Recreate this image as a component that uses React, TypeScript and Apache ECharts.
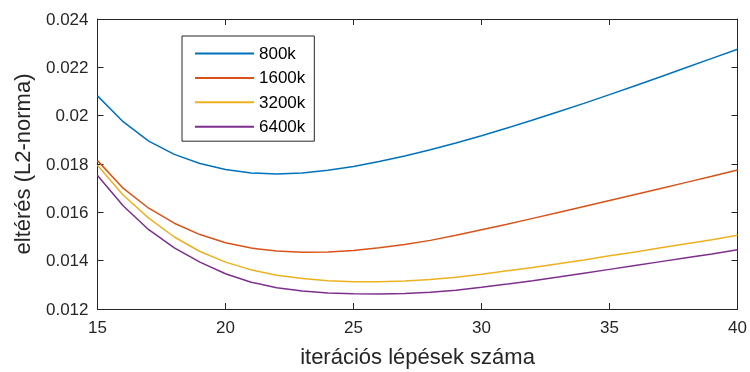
import React, { useEffect, useRef } from "react";
import * as echarts from "echarts";

const iterations = [15, 16, 17, 18, 19, 20, 21, 22, 23, 24, 25, 26, 27, 28, 29, 30, 31, 32, 33, 34, 35, 36, 37, 38, 39, 40];

const s800k = [0.02082, 0.01975, 0.01895, 0.0184, 0.01802, 0.01777, 0.01763, 0.01759, 0.01763, 0.01774, 0.0179, 0.0181, 0.01833, 0.01859, 0.01887, 0.01917, 0.01949, 0.01982, 0.02016, 0.02051, 0.02087, 0.02124, 0.02161, 0.02199, 0.02237, 0.02275];
const s1600k = [0.01814, 0.017, 0.01617, 0.01555, 0.01508, 0.01474, 0.01452, 0.0144, 0.01435, 0.01436, 0.01442, 0.01453, 0.01467, 0.01484, 0.01505, 0.01528, 0.01551, 0.01575, 0.01599, 0.01624, 0.01649, 0.01674, 0.01699, 0.01724, 0.01749, 0.01775];
const s3200k = [0.01795, 0.01672, 0.01576, 0.01498, 0.01438, 0.01394, 0.01362, 0.0134, 0.01326, 0.01317, 0.01313, 0.01313, 0.01316, 0.01322, 0.01331, 0.01344, 0.01358, 0.01372, 0.01387, 0.01403, 0.0142, 0.01436, 0.01453, 0.0147, 0.01487, 0.01505];
const s6400k = [0.01752, 0.01627, 0.01528, 0.01453, 0.01394, 0.01346, 0.01311, 0.01288, 0.01274, 0.01266, 0.01263, 0.01262, 0.01264, 0.01269, 0.01278, 0.0129, 0.01303, 0.01317, 0.01332, 0.01348, 0.01364, 0.0138, 0.01396, 0.01412, 0.01428, 0.01445];

const seriesNames = ["800k", "1600k", "3200k", "6400k"];
const seriesValues = [s800k, s1600k, s3200k, s6400k];
const seriesColors = ["#0072BD", "#D95319", "#EDB120", "#7E2F8E"];

const xTitle = "iterációs lépések száma";
const yTitle = "eltérés (L2-norma)";

const FONT = "'Liberation Sans', Arial, sans-serif";
const AXIS_COLOR = "#262626";

export default function App() {
  const ref = useRef<HTMLDivElement>(null);

  useEffect(() => {
    if (!ref.current) return;
    const chart = echarts.init(ref.current, undefined, { renderer: "svg" });

    const axisLine = { show: true, lineStyle: { color: AXIS_COLOR, width: 1 } };
    const axisTick = { show: true, inside: true, length: 6, lineStyle: { color: AXIS_COLOR, width: 1 } };

    chart.setOption({
      animation: false,
      textStyle: { fontFamily: FONT },
      grid: { left: 97.5, right: 12, top: 19, bottom: 62, containLabel: false },
      legend: {
        show: true,
        orient: "vertical",
        left: 182,
        top: 36,
        data: seriesNames,
        borderColor: AXIS_COLOR,
        borderWidth: 1,
        backgroundColor: "#ffffff",
        padding: [9, 9, 6, 12],
        itemWidth: 59,
        itemHeight: 14,
        itemGap: 7.4,
        itemStyle: { opacity: 0 },
        textStyle: { fontSize: 17, color: "#000000", fontFamily: FONT, lineHeight: 17 },
      },
      xAxis: [
        {
          type: "value",
          min: 15,
          max: 40,
          interval: 5,
          position: "bottom",
          name: xTitle,
          nameLocation: "middle",
          nameGap: 36,
          nameTextStyle: { fontSize: 22, color: AXIS_COLOR, fontFamily: FONT },
          axisLine,
          axisTick,
          splitLine: { show: false },
          axisLabel: { fontSize: 17, color: AXIS_COLOR, margin: 10, fontFamily: FONT },
        },
        {
          type: "value",
          min: 15,
          max: 40,
          interval: 5,
          position: "top",
          axisLine,
          axisTick,
          splitLine: { show: false },
          axisLabel: { show: false },
        },
      ],
      yAxis: [
        {
          type: "value",
          min: 0.012,
          max: 0.024,
          interval: 0.002,
          position: "left",
          name: yTitle,
          nameLocation: "middle",
          nameGap: 64,
          nameTextStyle: { fontSize: 22, color: AXIS_COLOR, fontFamily: FONT },
          axisLine,
          axisTick,
          splitLine: { show: false },
          axisLabel: { fontSize: 17, color: AXIS_COLOR, margin: 9, fontFamily: FONT },
        },
        {
          type: "value",
          min: 0.012,
          max: 0.024,
          interval: 0.002,
          position: "right",
          axisLine,
          axisTick,
          splitLine: { show: false },
          axisLabel: { show: false },
        },
      ],
      series: seriesNames.map((name, i) => ({
        name,
        type: "line",
        xAxisIndex: 0,
        yAxisIndex: 0,
        symbol: "none",
        showSymbol: false,
        smooth: false,
        color: seriesColors[i],
        lineStyle: { color: seriesColors[i], width: 1.5 },
        data: iterations.map((x, j) => [x, seriesValues[i][j]]),
      })),
    });

    return () => chart.dispose();
  }, []);

  return <div ref={ref} style={{ width: 750, height: 372, position: "fixed", left: 0, top: 0 }} />;
}
